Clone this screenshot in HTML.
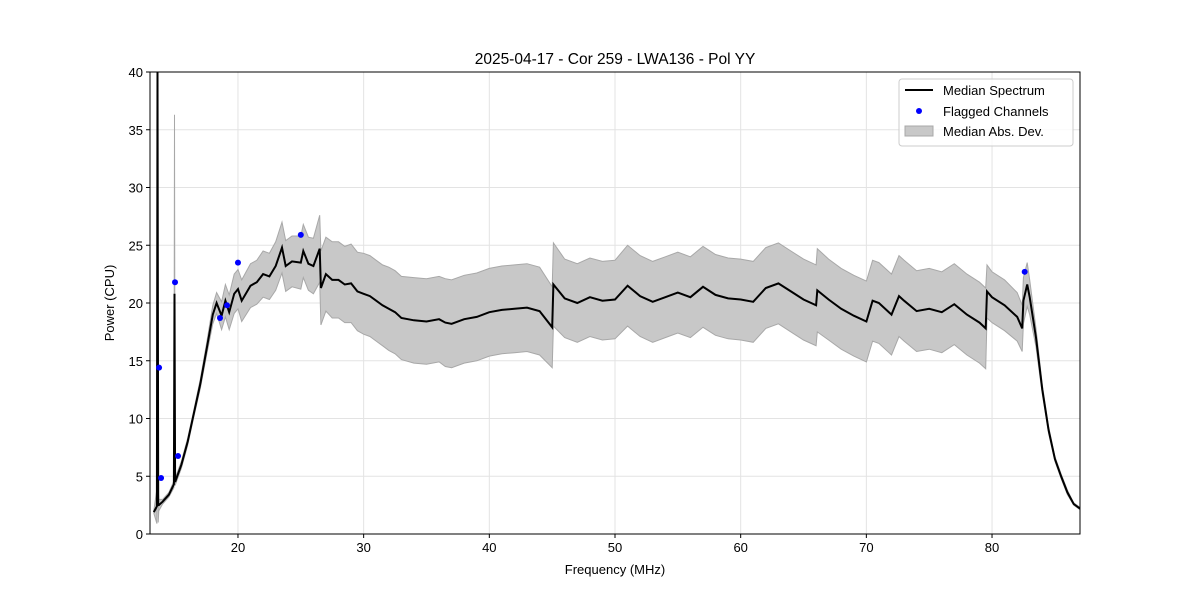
<!DOCTYPE html>
<html><head><meta charset="utf-8"><style>
body{margin:0;background:#fff}
svg{font-family:"Liberation Sans",sans-serif;display:block}
</style></head><body>
<svg id="chart" width="1200" height="600"></svg>
<script>
const freqs=[13.3,13.55,13.6,13.65,13.7,14.0,14.5,14.9,14.95,15.0,15.5,16,16.5,17,17.5,18,18.3,18.7,19,19.3,19.7,20,20.3,21,21.5,22,22.5,23,23.5,23.8,24.3,25,25.2,25.6,26,26.5,26.6,27,27.5,28,28.5,29,29.5,30,30.5,31,31.5,32,32.5,33,34,35,36,36.5,37,38,39,40,41,42,43,44,45,45.1,46,47,48,49,50,51,52,53,54,55,56,57,58,59,60,61,62,63,64,65,66,66.1,67,68,69,70,70.5,71,72,72.6,73,74,75,76,77,78,79,79.5,79.6,80,81,82,82.4,82.5,82.8,83,83.5,84,84.5,85,85.5,86,86.5,87];
const median=[1.9,2.4,40,2.5,2.5,2.8,3.4,4.3,20.8,4.5,6,8,10.5,13,16,19,20,18.9,20.2,19.2,20.8,21.2,20.2,21.5,21.8,22.5,22.3,23.2,24.8,23.2,23.6,23.5,24.5,23.4,23.2,24.7,21.3,22.5,22.0,22.0,21.6,21.7,21.0,20.8,20.6,20.2,19.8,19.5,19.2,18.7,18.5,18.4,18.6,18.3,18.2,18.6,18.8,19.2,19.4,19.5,19.6,19.3,17.9,21.6,20.4,20.0,20.5,20.2,20.3,21.5,20.6,20.1,20.5,20.9,20.5,21.4,20.7,20.4,20.3,20.1,21.3,21.7,21.0,20.3,19.8,21.1,20.3,19.5,18.9,18.4,20.2,20.0,19.0,20.6,20.2,19.3,19.5,19.2,19.9,19.0,18.3,17.8,21.0,20.5,19.8,18.8,17.8,20.2,21.6,20.5,17.0,12.5,9.0,6.5,5.0,3.6,2.6,2.2];
const mad=[0.1,1.5,0.5,1.5,0.5,0.2,0.2,0.3,15.5,0.3,0.3,0.3,0.3,0.4,0.5,0.8,0.9,1.2,1.4,1.5,1.7,1.7,1.8,1.9,1.9,2.0,2.0,2.1,2.2,2.2,2.2,2.3,2.3,2.3,2.4,2.9,3.2,3.2,3.3,3.3,3.3,3.4,3.4,3.5,3.5,3.5,3.5,3.6,3.6,3.6,3.7,3.7,3.7,3.8,3.8,3.8,3.8,3.8,3.8,3.8,3.8,3.8,3.5,3.6,3.4,3.4,3.4,3.4,3.4,3.5,3.5,3.5,3.5,3.5,3.5,3.5,3.5,3.5,3.5,3.5,3.5,3.5,3.5,3.5,3.5,3.6,3.5,3.5,3.5,3.5,3.5,3.5,3.5,3.5,3.5,3.5,3.5,3.5,3.5,3.5,3.5,3.5,2.3,2.2,2.2,2.1,2.0,2.0,1.9,1.5,0.8,0.4,0.3,0.2,0.2,0.2,0.1,0.1];
const flagFreqs=[13.72,13.88,14.99,15.23,18.57,19.13,20.0,25.0,82.6];
const flagVals=[14.4,4.85,21.8,6.75,18.7,19.8,23.5,25.9,22.7];
const xTicks=[20,30,40,50,60,70,80];
const yTicks=[0,5,10,15,20,25,30,35,40];

const NS="http://www.w3.org/2000/svg";
const svg=document.getElementById('chart');
const L=150,R=1080,T=72,B=534,X0=13,X1=87,Y0=0,Y1=40;
const xs=f=>L+(f-X0)/(X1-X0)*(R-L);
const ys=v=>B-(v-Y0)/(Y1-Y0)*(B-T);
function mk(tag,attrs,parent){const e=document.createElementNS(NS,tag);for(const k in attrs)e.setAttribute(k,attrs[k]);(parent||svg).appendChild(e);return e;}

const defs=mk('defs',{});
const cp=mk('clipPath',{id:'clip'},defs);mk('rect',{x:L,y:T,width:R-L,height:B-T},cp);

// grid
const grid=mk('g',{});


xTicks.forEach(t=>mk('line',{x1:xs(t),x2:xs(t),y1:T,y2:B,stroke:'#e3e3e3','stroke-width':1},grid));
yTicks.forEach(t=>mk('line',{x1:L,x2:R,y1:ys(t),y2:ys(t),stroke:'#e3e3e3','stroke-width':1},grid));

const plot=mk('g',{'clip-path':'url(#clip)'});
// band
let d='';
freqs.forEach((f,i)=>{d+=(i?'L':'M')+xs(f).toFixed(1)+','+ys(median[i]+mad[i]).toFixed(1);});
for(let i=freqs.length-1;i>=0;i--)d+='L'+xs(freqs[i]).toFixed(1)+','+ys(median[i]-mad[i]).toFixed(1);
const band=mk('path',{d:d+'Z',fill:'#c8c8c8',stroke:'#a8a8a8','stroke-width':1},plot);


// median
let m='';
freqs.forEach((f,i)=>{m+=(i?'L':'M')+xs(f).toFixed(1)+','+ys(median[i]).toFixed(1);});
const ml=mk('path',{d:m,fill:'none',stroke:'#000','stroke-width':2},plot);


flagFreqs.forEach((f,i)=>{
  const c=mk('circle',{cx:xs(f),cy:ys(flagVals[i]),r:3,fill:'#0000ff'},plot);
  
  
});

// axes frame
const frame=mk('rect',{x:L,y:T,width:R-L,height:B-T,fill:'none',stroke:'#000','stroke-width':1});


xTicks.forEach(t=>{
  mk('line',{x1:xs(t),x2:xs(t),y1:B,y2:B+4,stroke:'#000'});
  const tx=mk('text',{x:xs(t),y:B+18,'text-anchor':'middle','font-size':13});tx.textContent=t;
  
  
});
yTicks.forEach(t=>{
  mk('line',{x1:L-4,x2:L,y1:ys(t),y2:ys(t),stroke:'#000'});
  const tx=mk('text',{x:L-7,y:ys(t)+5,'text-anchor':'end','font-size':13});tx.textContent=t;
  
  
});
</script>
<svg width="1200" height="600" style="position:absolute;left:0;top:0">
<text x="615" y="64" text-anchor="middle" font-size="15.5">2025-04-17 - Cor 259 - LWA136 - Pol YY</text>
<text x="615" y="574" text-anchor="middle" font-size="13">Frequency (MHz)</text>
<text transform="translate(114,303) rotate(-90)" text-anchor="middle" font-size="13">Power (CPU)</text>
<g>
<rect x="899" y="79" width="174" height="67" rx="3" fill="#fff" fill-opacity="0.8" stroke="#ccc"/>
<line x1="905" y1="90" x2="933" y2="90" stroke="#000" stroke-width="2"/>
<text x="943" y="95" font-size="13">Median Spectrum</text>
<circle cx="919" cy="111" r="3" fill="#0000ff"/>
<text x="943" y="116" font-size="13">Flagged Channels</text>
<rect x="905" y="126" width="28" height="10" fill="#c8c8c8" stroke="#a8a8a8"/>
<text x="943" y="136" font-size="13">Median Abs. Dev.</text>
</g>
</svg>
</body></html>
